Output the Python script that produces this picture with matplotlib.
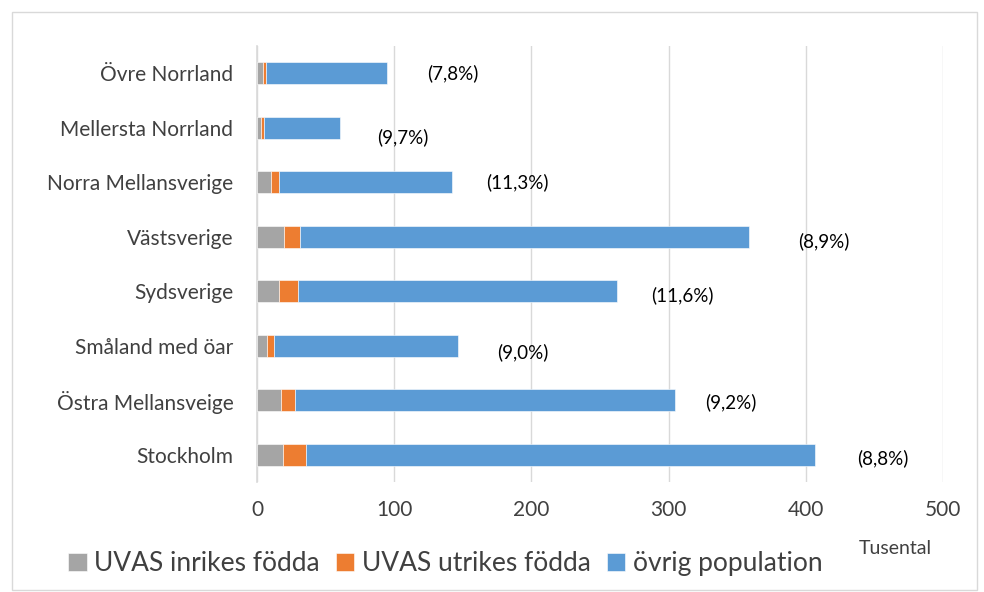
import matplotlib.pyplot as plt
from matplotlib.patches import Rectangle
import numpy as np

plt.rcParams['font.family'] = ['Lato', 'DejaVu Sans']

regions = ['Stockholm', 'Östra Mellansveige', 'Småland med öar', 'Sydsverige',
           'Västsverige', 'Norra Mellansverige', 'Mellersta Norrland', 'Övre Norrland']
inrikes = [19.2, 17.7, 7.0, 16.3, 19.9, 10.4, 3.2, 4.6]
utrikes = [16.3, 10.2, 5.6, 13.8, 11.4, 5.4, 2.1, 2.2]
ovrig = [371, 277, 134, 232, 327, 126, 55, 88]
shares = ['(8,8%)', '(9,2%)', '(9,0%)', '(11,6%)', '(8,9%)', '(11,3%)', '(9,7%)', '(7,8%)']
share_x = [456, 345, 194, 310, 413, 190, 106, 143]
share_dy = [-0.06, -0.03, -0.11, -0.07, -0.09, 0.0, -0.18, 0.0]

fig = plt.figure(figsize=(9.84, 5.92), dpi=100)
ax = fig.add_axes([0.2612, 0.1858, 0.6971, 0.7365])

y = np.arange(len(regions))
inr = np.array(inrikes)
utr = np.array(utrikes)
ovr = np.array(ovrig)
h = 0.4
ax.barh(y, inr, height=h, color='#A5A5A5', edgecolor='white', linewidth=0.4, label='UVAS inrikes födda', zorder=3)
ax.barh(y, utr, left=inr, height=h, color='#ED7D31', edgecolor='white', linewidth=0.4, label='UVAS utrikes födda', zorder=3)
ax.barh(y, ovr, left=inr + utr, height=h, color='#5B9BD5', edgecolor='white', linewidth=0.4, label='övrig population', zorder=3)

for i, (s, sx, dy) in enumerate(zip(shares, share_x, share_dy)):
    ax.text(sx, i + dy, s, ha='center', va='center', fontsize=13.5, color='black')

ax.set_xlim(0, 500)
ax.set_ylim(-0.5, len(regions) - 0.5)
ax.set_xticks([0, 100, 200, 300, 400, 500])
ax.set_yticks(y)
ax.set_yticklabels(regions)
ax.tick_params(axis='both', length=0, labelsize=15, colors='#404040')
ax.tick_params(axis='y', pad=17)
ax.tick_params(axis='x', pad=13)
ax.grid(axis='x', color='#D9D9D9', linewidth=1, zorder=0)
for side in ['top', 'right', 'bottom']:
    ax.spines[side].set_visible(False)
ax.spines['left'].set_color('#D9D9D9')
ax.spines['left'].set_linewidth(1.2)

fig.legend(loc='center left', bbox_to_anchor=(0.045, 0.048), ncol=3, frameon=False,
           fontsize=19, handlelength=0.7, handleheight=0.7, handletextpad=0.3,
           columnspacing=0.6, labelcolor='#404040')
fig.text(0.91, 0.073, 'Tusental', ha='center', va='center', fontsize=14, color='#404040')

fig.patches.append(Rectangle((0.012, 0.003), 0.981, 0.977, transform=fig.transFigure,
                             fill=False, edgecolor='#D9D9D9', linewidth=1))

fig.savefig('out.png', dpi=100)
